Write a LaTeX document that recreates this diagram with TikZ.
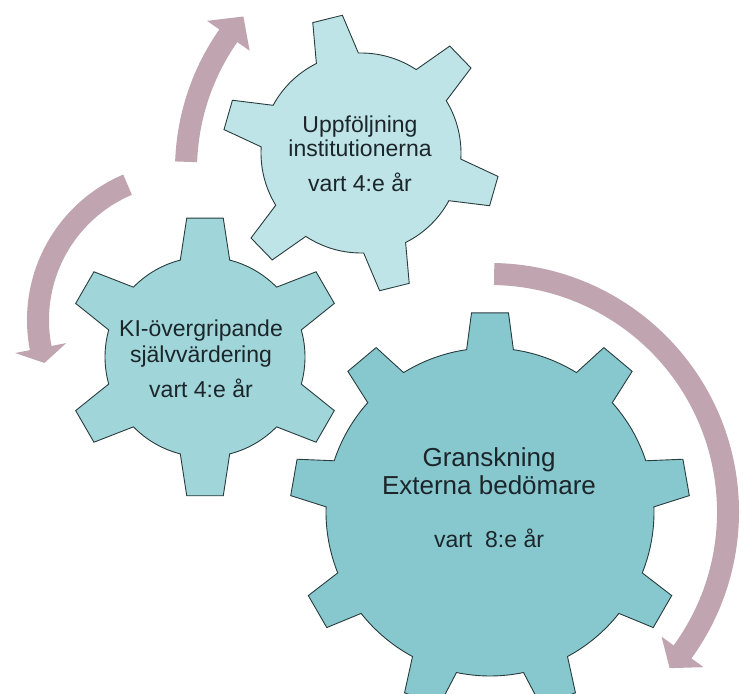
\documentclass[tikz,border=0pt]{standalone}
\usepackage{fontspec}
\setmainfont{Liberation Sans}
\usepackage{tikz}

\definecolor{gearbig}{RGB}{134,200,206}
\definecolor{gearmid}{RGB}{160,213,217}
\definecolor{gearsmall}{RGB}{190,228,231}
\definecolor{turncol}{RGB}{192,164,175}
\definecolor{gearline}{RGB}{40,60,62}
\definecolor{geartext}{RGB}{28,38,42}

% teeth, first tooth, tip radius, root radius, tip half-angle, root half-angle
\newcommand{\gearpath}[6]{%
	({#2-#6}:#4) foreach \i in {1,...,#1} {
		-- ({#2+(\i-1)*360/#1-#6}:#4) -- ({#2+(\i-1)*360/#1-#5}:#3)
		-- ({#2+(\i-1)*360/#1+#5}:#3) -- ({#2+(\i-1)*360/#1+#6}:#4)
		arc[start angle={#2+(\i-1)*360/#1+#6}, end angle={#2+\i*360/#1-#6}, radius=#4]
	} -- cycle}

% radius, start angle, head angle, tip angle
\newcommand{\turnpath}[4]{%
	(#2:#1+11) arc[start angle=#2, end angle=#3, radius=#1+11]
	-- (#3:#1+26) -- (#4:#1) -- (#3:#1-26) -- (#3:#1-11)
	arc[start angle=#3, end angle=#2, radius=#1-11] -- cycle}

\begin{document}
\begin{tikzpicture}[x=1pt, y=1pt,
		gear/.style={draw=gearline, line width=0.9pt, line join=miter},
		turn/.style={fill=turncol},
		geartxt/.style={anchor=base, inner sep=0pt, text=geartext, font=\fontsize{23}{27}\selectfont},
		bigtxt/.style={geartxt, font=\fontsize{26}{30}\selectfont}]
				\useasboundingbox (0,0) rectangle (746,693);

				\begin{scope}[shift={(420,523)}]
					\fill[turn] \turnpath{234}{178}{145}{139};
				\end{scope}
				\begin{scope}[shift={(185,373)}]
					\fill[turn] \turnpath{147}{113}{191}{197};
				\end{scope}
				\begin{scope}[shift={(490,181)}]
					\fill[turn] \turnpath{238}{89}{-36}{-41};
				\end{scope}

				\begin{scope}[shift={(361,540)}]
					\draw[gear, fill=gearsmall] \gearpath{6}{104}{139}{100}{6.3}{12.5};
				\end{scope}
				\begin{scope}[shift={(205,336)}]
					\draw[gear, fill=gearmid] \gearpath{6}{90}{140}{100}{7.5}{14.3};
				\end{scope}
				\begin{scope}[shift={(490,181)}]
					\draw[gear, fill=gearbig] \gearpath{9}{90}{200}{164}{5.3}{8.2};
				\end{scope}

				\node[geartxt] (upp1) at (360,560) {Uppföljning};
				\node[geartxt] (upp2) at (360,536) {institutionerna};
				\node[geartxt] (upp3) at (360,501) {vart 4:e år};

				\node[geartxt] (ki1) at (201,356) {KI-övergripande};
				\node[geartxt] (ki2) at (201,330) {självvärdering};
				\node[geartxt] (ki3) at (201,295) {vart 4:e år};

				\node[bigtxt] (gr1) at (489,226) {Granskning};
				\node[bigtxt] (gr2) at (489,198) {Externa bedömare};
				\node[geartxt] (gr3) at (489,145) {vart\ \ 8:e år};
\end{tikzpicture}
\end{document}
